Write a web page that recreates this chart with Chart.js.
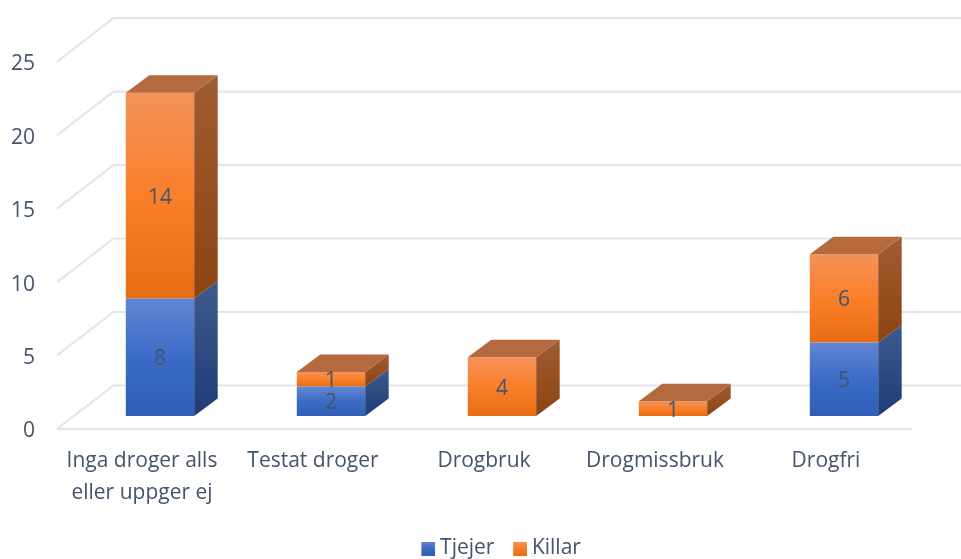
<!DOCTYPE html>
<html>
<head>
<meta charset="utf-8">
<style>html,body{margin:0;padding:0;background:#fff}canvas{display:block}</style>
<script src="https://cdn.jsdelivr.net/npm/chart.js@4"></script>
</head>
<body>
<canvas id="c" width="961" height="559"></canvas>
<script>
const categories = [["Inga droger alls","eller uppger ej"],"Testat droger","Drogbruk","Drogmissbruk","Drogfri"];
const tjejer = [8,2,0,0,5];
const killar = [14,1,4,1,6];
const tickValues = [0,5,10,15,20,25];

const FONT = '"Open Sans", sans-serif';
const TEXT = '#44546A';
const DX = 23.5, DY = -17.5;
const PX_PER_UNIT = 14.68;
const AREA_TOP = 17, AREA_BOTTOM = 429;
const ZERO_BAR = 415.5, ZERO_LABEL = 431;
const range = (AREA_BOTTOM - AREA_TOP) / PX_PER_UNIT;

const palette = {
  blue:   {front:['#6485d2','#3a6cc6','#2f5fb5'], side:['#3f5a8e','#1f3c75']},
  orange: {front:['#f59259','#f97f2a','#e86c12'], side:['#a05c33','#8c440f']}
};
function frontGrad(ctx, top, bottom, p){
  const g = ctx.createLinearGradient(0, top, 0, bottom);
  g.addColorStop(0, p.front[0]); g.addColorStop(.5, p.front[1]); g.addColorStop(1, p.front[2]);
  return g;
}
function swatch(p){
  const cv = document.createElement('canvas'); cv.width = 18; cv.height = 14;
  const x = cv.getContext('2d'); x.fillStyle = frontGrad(x,0,14,p); x.fillRect(4,0,14,14);
  return cv;
}
function segment(chart, dsIndex, i){
  const y = chart.scales.y;
  const lo = dsIndex === 0 ? 0 : tjejer[i];
  const hi = dsIndex === 0 ? tjejer[i] : tjejer[i] + killar[i];
  return {top:y.getPixelForValue(hi), bottom:y.getPixelForValue(lo)};
}
function barFill(p, dsIndex){
  return c => {
    if (!c.chart.chartArea || c.dataIndex === undefined) return p.front[1];
    const s = segment(c.chart, dsIndex, c.dataIndex);
    return frontGrad(c.chart.ctx, s.top, s.bottom, p);
  };
}

const wall = {
  id:'wall',
  beforeDatasetsDraw(chart){
    const {ctx, scales:{x,y}} = chart;
    const fx = x.left - 17.5, bx = x.left + 39, rx = 961;
    ctx.save();
    ctx.strokeStyle = '#E1E5EC'; ctx.lineWidth = 2.2;
    tickValues.forEach(v => {
      const p = y.getPixelForValue(v);
      ctx.beginPath();
      ctx.moveTo(fx, p + 13); ctx.lineTo(bx, p - 30.5); ctx.lineTo(rx, p - 30.5);
      ctx.stroke();
    });
    const p0 = y.getPixelForValue(0);
    ctx.beginPath();
    ctx.moveTo(fx, p0 + 13); ctx.lineTo(x.right - 17.5, p0 + 13);
    ctx.stroke();
    ctx.restore();
  }
};
const depth = {
  id:'depth',
  afterDatasetsDraw(chart){
    const {ctx} = chart;
    const pals = [palette.blue, palette.orange];
    ctx.save();
    categories.forEach((_, i) => {
      let topSeg = null, geom = null;
      [0,1].forEach(d => {
        const val = chart.data.datasets[d].data[i];
        if (!val) return;
        const el = chart.getDatasetMeta(d).data[i];
        const l = el.x - el.width/2, r = el.x + el.width/2;
        const s = segment(chart, d, i);
        const g = ctx.createLinearGradient(0, s.top + DY, 0, s.bottom);
        g.addColorStop(0, pals[d].side[0]); g.addColorStop(1, pals[d].side[1]);
        ctx.fillStyle = g;
        ctx.beginPath();
        ctx.moveTo(r, s.top); ctx.lineTo(r + DX, s.top + DY);
        ctx.lineTo(r + DX, s.bottom + DY); ctx.lineTo(r, s.bottom);
        ctx.closePath(); ctx.fill();
        topSeg = s; geom = {l, r};
      });
      if (geom) {
        ctx.fillStyle = '#b5693e';
        ctx.beginPath();
        ctx.moveTo(geom.l, topSeg.top); ctx.lineTo(geom.l + DX, topSeg.top + DY);
        ctx.lineTo(geom.r + DX, topSeg.top + DY); ctx.lineTo(geom.r, topSeg.top);
        ctx.closePath(); ctx.fill();
      }
    });
    ctx.font = '21px ' + FONT;
    ctx.fillStyle = TEXT;
    ctx.textAlign = 'center'; ctx.textBaseline = 'middle';
    [0,1].forEach(d => {
      chart.data.datasets[d].data.forEach((val, i) => {
        if (!val) return;
        const el = chart.getDatasetMeta(d).data[i];
        const s = segment(chart, d, i);
        ctx.fillText(String(val), el.x, (s.top + s.bottom)/2 + 2);
      });
    });
    ctx.restore();
  }
};

new Chart(document.getElementById('c'), {
  type:'bar',
  data:{
    labels:categories,
    datasets:[
      {label:'Tjejer', data:tjejer, backgroundColor:barFill(palette.blue,0), borderWidth:0, yAxisID:'y', stack:'s', barPercentage:0.4, categoryPercentage:1},
      {label:'Killar', data:killar, backgroundColor:barFill(palette.orange,1), borderWidth:0, yAxisID:'y', stack:'s', barPercentage:0.4, categoryPercentage:1}
    ]
  },
  options:{
    responsive:false, animation:false,
    layout:{padding:{top:AREA_TOP, right:31.5, left:0, bottom:-10}},
    plugins:{
      tooltip:{enabled:false},
      legend:{
        position:'bottom', fullSize:false,
        labels:{
          usePointStyle:true, pointStyleWidth:6.5, padding:20.5,
          color:TEXT, font:{family:FONT, size:21},
          generateLabels(){
            return [
              {text:'Tjejer', pointStyle:swatch(palette.blue), fontColor:TEXT, datasetIndex:0, lineWidth:0, strokeStyle:'transparent', fillStyle:'#3a6cc6'},
              {text:'Killar', pointStyle:swatch(palette.orange), fontColor:TEXT, datasetIndex:1, lineWidth:0, strokeStyle:'transparent', fillStyle:'#f97f2a'}
            ];
          }
        }
      }
    },
    scales:{
      x:{
        stacked:true,
        grid:{display:false}, border:{display:false},
        ticks:{color:TEXT, font:{family:FONT, size:21, lineHeight:1.5}, labelOffset:-18, padding:8, maxRotation:0, minRotation:0, autoSkip:false},
        afterFit(s){ s.height = 88; s.paddingLeft = 0; s.paddingRight = 0; }
      },
      y:{
        display:false, stacked:true,
        min:-(AREA_BOTTOM - ZERO_BAR)/PX_PER_UNIT,
        max:range-(AREA_BOTTOM - ZERO_BAR)/PX_PER_UNIT
      },
      y2:{
        position:'left',
        min:-(AREA_BOTTOM - ZERO_LABEL)/PX_PER_UNIT,
        max:range-(AREA_BOTTOM - ZERO_LABEL)/PX_PER_UNIT,
        grid:{display:false}, border:{display:false},
        afterBuildTicks(s){ s.ticks = tickValues.map(v => ({value:v})); },
        ticks:{color:TEXT, font:{family:FONT, size:21}, padding:31.5, callback:v => String(v)},
        afterFit(s){ s.width = 74.5; s.paddingTop = 0; s.paddingBottom = 0; }
      }
    }
  },
  plugins:[wall, depth]
});
</script>
</body>
</html>
